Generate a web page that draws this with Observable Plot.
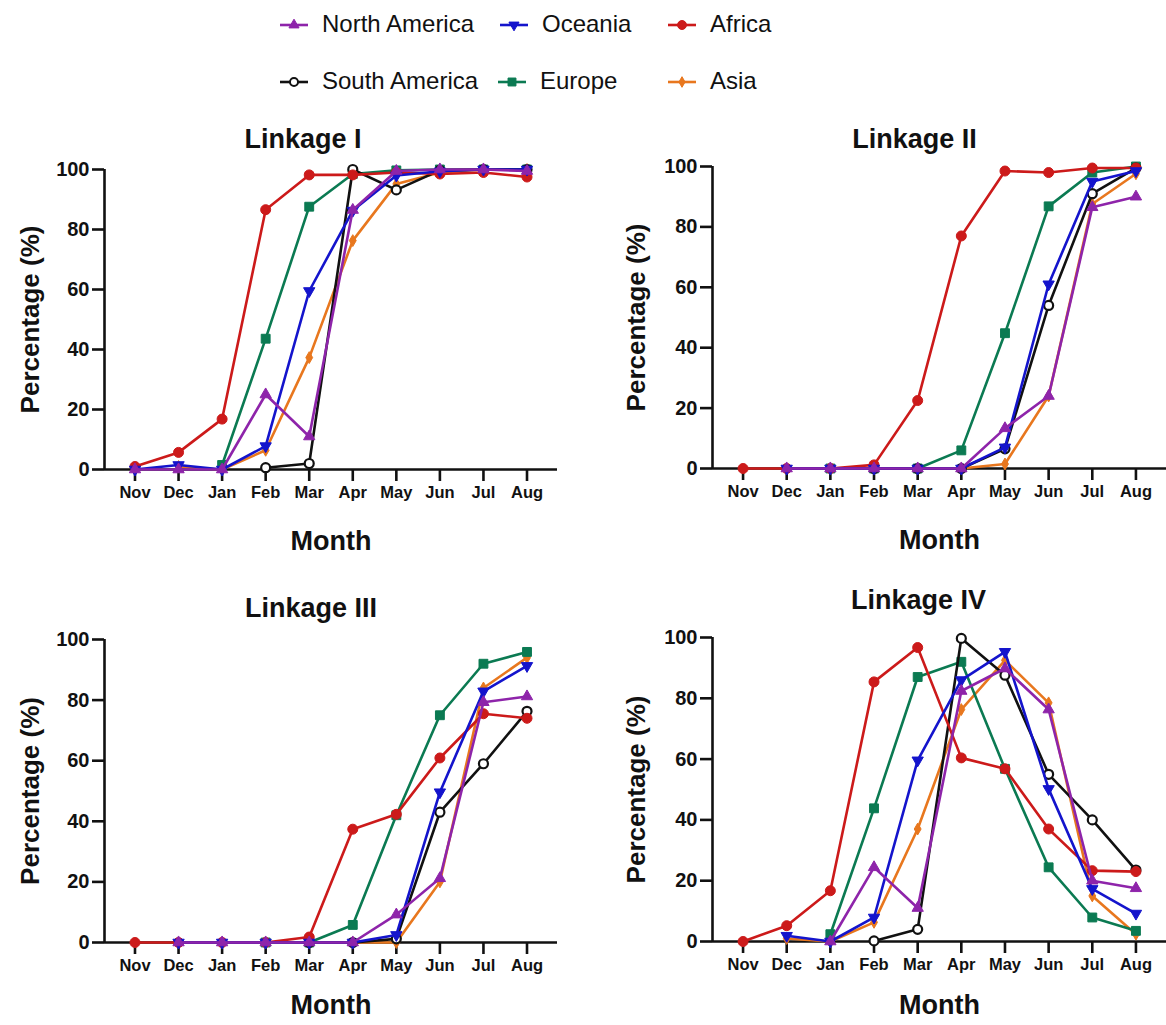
<!DOCTYPE html>
<html><head><meta charset="utf-8">
<script src="https://cdn.jsdelivr.net/npm/d3@7"></script>
<script src="https://cdn.jsdelivr.net/npm/@observablehq/plot@0.6"></script>
<style>
body{margin:0;background:#fff;}
#root{position:relative;width:1166px;height:1025px;overflow:hidden;font-family:"Liberation Sans",Arial,sans-serif;background:#fff;}
.panel{position:absolute;}
.legsym{position:absolute;}
.legtxt{position:absolute;font-size:24px;color:#111;line-height:28px;white-space:nowrap;}
</style></head><body><div id="root"></div>
<script>
// ---------- data ----------
const months = ["Nov","Dec","Jan","Feb","Mar","Apr","May","Jun","Jul","Aug"];
const regions = ["North America","Oceania","Africa","South America","Europe","Asia"];
const regionColors = ["#8e24aa","#1414cc","#cc1a1a","#111111","#0b7a52","#e8771e"];
const yTicks = [0,20,40,60,80,100];

const linkageI = {
  "North America": [0,0,0,25,11,86.5,99.5,100,100,99.5],
  "Oceania":       [0,1.5,0,7.8,59.5,86.3,98,99.4,100,100],
  "Africa":        [1,5.7,16.8,86.6,98.2,98.2,99,98.5,99,97.5],
  "South America": [null,null,null,0.6,2,100,93.2,99.7,100,100],
  "Europe":        [null,null,1.5,43.6,87.6,98.5,99.7,100,100,100],
  "Asia":          [null,1,0,6.4,37.3,76.3,95.2,99,100,100]
};
const linkageII = {
  "North America": [null,0,0,0,0,0,13.3,24,86.5,90],
  "Oceania":       [null,0,0,0,0,0,7,61,95,98.5],
  "Africa":        [0,0,0,1.2,22.5,77,98.5,98,99.5,99.5],
  "South America": [null,null,null,0,0,0,6.5,54,91,99.5],
  "Europe":        [null,null,0,0,0,6,44.8,86.8,98,100],
  "Asia":          [null,null,0,0,0,0,1.5,24,87.6,97.6]
};
const linkageIII = {
  "North America": [null,0,0,0,0,0,9.2,21.2,79.3,81.2],
  "Oceania":       [null,0,0,0,0,0,2.5,49.6,82.9,91.3],
  "Africa":        [0,0,0,0,1.8,37.4,42.3,60.9,75.5,74],
  "South America": [null,null,null,null,0,0,1.2,43,59,76.3],
  "Europe":        [null,null,null,0,0,5.8,42,75,92,95.9],
  "Asia":          [null,null,null,0,0,0,0,20,84,94]
};
const linkageIV = {
  "North America": [null,null,0,24.4,11,82.4,89.8,76.3,20,17.5],
  "Oceania":       [null,1.9,0,7.9,59.6,86,95.3,50.2,17.3,9.2],
  "Africa":        [0,5.2,16.7,85.4,96.7,60.4,56.8,37,23.3,23],
  "South America": [null,null,null,0.2,4,99.7,87.6,55,40,23.5],
  "Europe":        [null,null,2.4,43.8,87,92,56.8,24.4,7.9,3.5],
  "Asia":          [null,1,0,6.3,37,76.3,92.5,78.5,15,2.4]
};

// ---------- styles ----------
const markerStyle = {
  "North America": {symbol:"triangle", r:4.2, rotate:0, hollow:false},
  "Oceania":       {symbol:"triangle", r:4.2, rotate:180, hollow:false},
  "Africa":        {symbol:"circle", r:5, rotate:0, hollow:false},
  "South America": {symbol:"circle", r:4.5, rotate:0, hollow:true},
  "Europe":        {symbol:"square", r:5, rotate:0, hollow:false},
  "Asia":          {symbol:"diamond", r:3.6, rotate:0, hollow:false}
};
const drawOrder = ["Asia","Europe","South America","Africa","Oceania","North America"];
const FONT = "Liberation Sans, Arial, Helvetica, sans-serif";

const root = document.getElementById("root");

// ---------- legend ----------
const legendItems = [
  {r:"North America", lx:280, tx:322, cy:25},
  {r:"Oceania",       lx:500, tx:542, cy:25},
  {r:"Africa",        lx:668, tx:710, cy:25},
  {r:"South America", lx:280, tx:322, cy:82},
  {r:"Europe",        lx:498, tx:540, cy:82},
  {r:"Asia",          lx:668, tx:710, cy:82}
];
const symMap = {circle:d3.symbolCircle, triangle:d3.symbolTriangle, square:d3.symbolSquare, diamond:d3.symbolDiamond};
for (const it of legendItems) {
  const col = regionColors[regions.indexOf(it.r)];
  const st = markerStyle[it.r];
  const svg = d3.create("svg").attr("class","legsym").attr("width",30).attr("height",20)
    .style("left", it.lx+"px").style("top",(it.cy-10)+"px");
  svg.append("line").attr("x1",0).attr("x2",28).attr("y1",10).attr("y2",10).attr("stroke",col).attr("stroke-width",2.6);
  svg.append("path").attr("d", d3.symbol(symMap[st.symbol], Math.PI*st.r*st.r*0.8)())
    .attr("transform",`translate(14,10) rotate(${st.rotate})`)
    .attr("fill", st.hollow ? "white" : col).attr("stroke",col).attr("stroke-width", st.hollow?2:1);
  root.appendChild(svg.node());
  const t = document.createElement("div");
  t.className = "legtxt"; t.textContent = it.r;
  t.style.left = it.tx+"px"; t.style.top = (it.cy-15)+"px";
  root.appendChild(t);
}

// ---------- panels ----------
function panel(data, g) {
  const rows = [];
  for (const r of drawOrder) data[r].forEach((v,i) => { if (v != null) rows.push({region:r, m:i, v}); });
  const marks = [
    Plot.ruleY([0], {stroke:"#111", strokeWidth:2.6}),
    Plot.ruleX([-0.7], {stroke:"#111", strokeWidth:2.6}),
    Plot.axisY({ticks:yTicks, tickSize:12, tickPadding:3, fontSize:20, fontWeight:"bold", strokeWidth:2.6, label:null}),
    Plot.axisX({ticks:d3.range(months.length), tickFormat:i => months[i], tickSize:12, tickPadding:5, fontSize:16.5, fontWeight:"bold", strokeWidth:2.6, label:null})
  ];
  for (const r of drawOrder) {
    const st = markerStyle[r];
    const d = rows.filter(x => x.region === r);
    marks.push(Plot.line(d, {x:"m", y:"v", stroke:"region", strokeWidth:2.6}));
    marks.push(Plot.dot(d, {x:"m", y:"v", symbol:st.symbol, r:st.r, rotate:st.rotate,
      fill: st.hollow ? "white" : "region", stroke:"region", strokeWidth: st.hollow ? 2.2 : 1}));
  }
  marks.push(Plot.text([g.title], {frameAnchor:"top", text:d=>d, dx:g.tdx, dy:g.tdy, textAnchor:"middle", lineAnchor:"middle", fontSize:27, fontWeight:"bold", fill:"#111"}));
  marks.push(Plot.text(["Month"], {frameAnchor:"bottom", text:d=>d, dy:g.mdy, textAnchor:"middle", lineAnchor:"middle", fontSize:27, fontWeight:"bold", fill:"#111"}));
  marks.push(Plot.text(["Percentage (%)"], {frameAnchor:"left", text:d=>d, dx:g.ydx, rotate:-90, textAnchor:"middle", lineAnchor:"middle", fontSize:26, fontWeight:"bold", fill:"#111"}));
  const chart = Plot.plot({
    width:g.width, height:g.height,
    marginLeft:g.ml, marginRight:g.mr, marginTop:g.mt, marginBottom:g.mb,
    x:{type:"linear", domain:[-0.7, months.length - 0.3], axis:null},
    y:{domain:[0,100], axis:null},
    color:{domain:regions, range:regionColors},
    style:{fontFamily:FONT, background:"white", color:"#111", overflow:"visible"},
    marks
  });
  chart.classList.add("panel");
  chart.style.left = g.left+"px"; chart.style.top = g.top+"px";
  root.appendChild(chart);
}

panel(linkageI,   {title:"Linkage I",   left:0,   top:110, width:570, height:460, ml:104, mr:13, mt:59, mb:101, tdx:-28, tdy:-30, ydx:-74, mdy:72});
panel(linkageII,  {title:"Linkage II",  left:583, top:110, width:583, height:460, ml:129, mr:0,  mt:56, mb:102, tdx:-25, tdy:-27, ydx:-76, mdy:72});
panel(linkageIII, {title:"Linkage III", left:0,   top:580, width:570, height:445, ml:104, mr:13, mt:59, mb:83,  tdx:-20, tdy:-31, ydx:-74, mdy:63});
panel(linkageIV,  {title:"Linkage IV",  left:583, top:580, width:583, height:445, ml:129, mr:0,  mt:57, mb:84,  tdx:-21, tdy:-37, ydx:-76, mdy:64});
</script>
</body></html>
